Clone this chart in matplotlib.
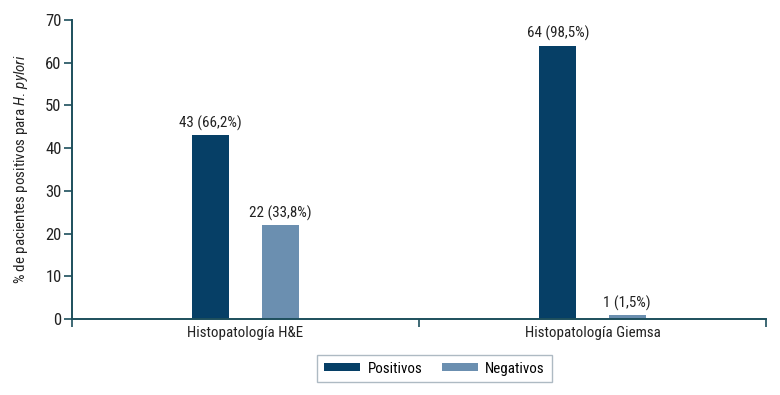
import matplotlib
matplotlib.use("Agg")
import matplotlib.pyplot as plt
import numpy as np

plt.rcParams['font.family'] = ['Roboto Condensed', 'Liberation Sans', 'DejaVu Sans']
plt.rcParams['mathtext.fontset'] = 'custom'
plt.rcParams['mathtext.it'] = 'Roboto Condensed:italic'
plt.rcParams['mathtext.rm'] = 'Roboto Condensed'

categories = ["Histopatología H&E", "Histopatología Giemsa"]
series_names = ["Positivos", "Negativos"]
positivos = [43, 64]
negativos = [22, 1]
pos_labels = ["43 (66,2%)", "64 (98,5%)"]
neg_labels = ["22 (33,8%)", "1 (1,5%)"]
yticks = [0, 10, 20, 30, 40, 50, 60, 70]

c_pos = "#063f66"
c_neg = "#6b8fb0"
axis_col = "#1d4f5c"
txt_col = "#222222"
fs = 10.8

fig = plt.figure(figsize=(7.8, 3.95), dpi=100)
ax = fig.add_axes([0.0923, 0.1924, 0.8897, 0.757])

x = np.arange(len(categories))
w = 0.107
off = 0.1
b1 = ax.bar(x - off, positivos, w, color=c_pos, label=series_names[0])
b2 = ax.bar(x + off, negativos, w, color=c_neg, label=series_names[1])

for bars, labs in ((b1, pos_labels), (b2, neg_labels)):
    for rect, lab in zip(bars, labs):
        ax.annotate(lab, (rect.get_x() + rect.get_width() / 2, rect.get_height()),
                    xytext=(0, 3), textcoords="offset points", ha="center", va="bottom",
                    fontsize=fs, color=txt_col)

ax.set_xlim(-0.5, 1.5)
ax.set_ylim(0, 70)
ax.set_yticks(yticks)
ax.set_xticks(x)
ax.set_xticklabels(categories, fontsize=fs, color=txt_col)
ax.tick_params(axis='x', which='major', length=0, pad=5)
ax.set_xticks([-0.5, 0.5, 1.5], minor=True)
ax.tick_params(axis='x', which='minor', length=6, width=1.2, color=axis_col, direction='out')
ax.tick_params(axis='y', length=6, width=1.2, color=axis_col, labelsize=12, labelcolor=txt_col, pad=1.5)

for s in ['top', 'right']:
    ax.spines[s].set_visible(False)
for s in ['left', 'bottom']:
    ax.spines[s].set_color(axis_col)
    ax.spines[s].set_linewidth(1.4)

ax.set_ylabel(r"% de pacientes positivos para $H.\,pylori$", fontsize=fs, color=txt_col, labelpad=11)

leg = fig.legend(handles=[b1, b2], labels=series_names, loc='center',
                 bbox_to_anchor=(0.557, 0.067), ncol=2, frameon=True, fancybox=False,
                 fontsize=fs, handlelength=2.4, handleheight=0.45, handletextpad=0.5,
                 columnspacing=1.3, borderpad=0.45, edgecolor="#9aa9b5")
leg.get_frame().set_linewidth(1.0)

fig.savefig("out.png", dpi=100)
